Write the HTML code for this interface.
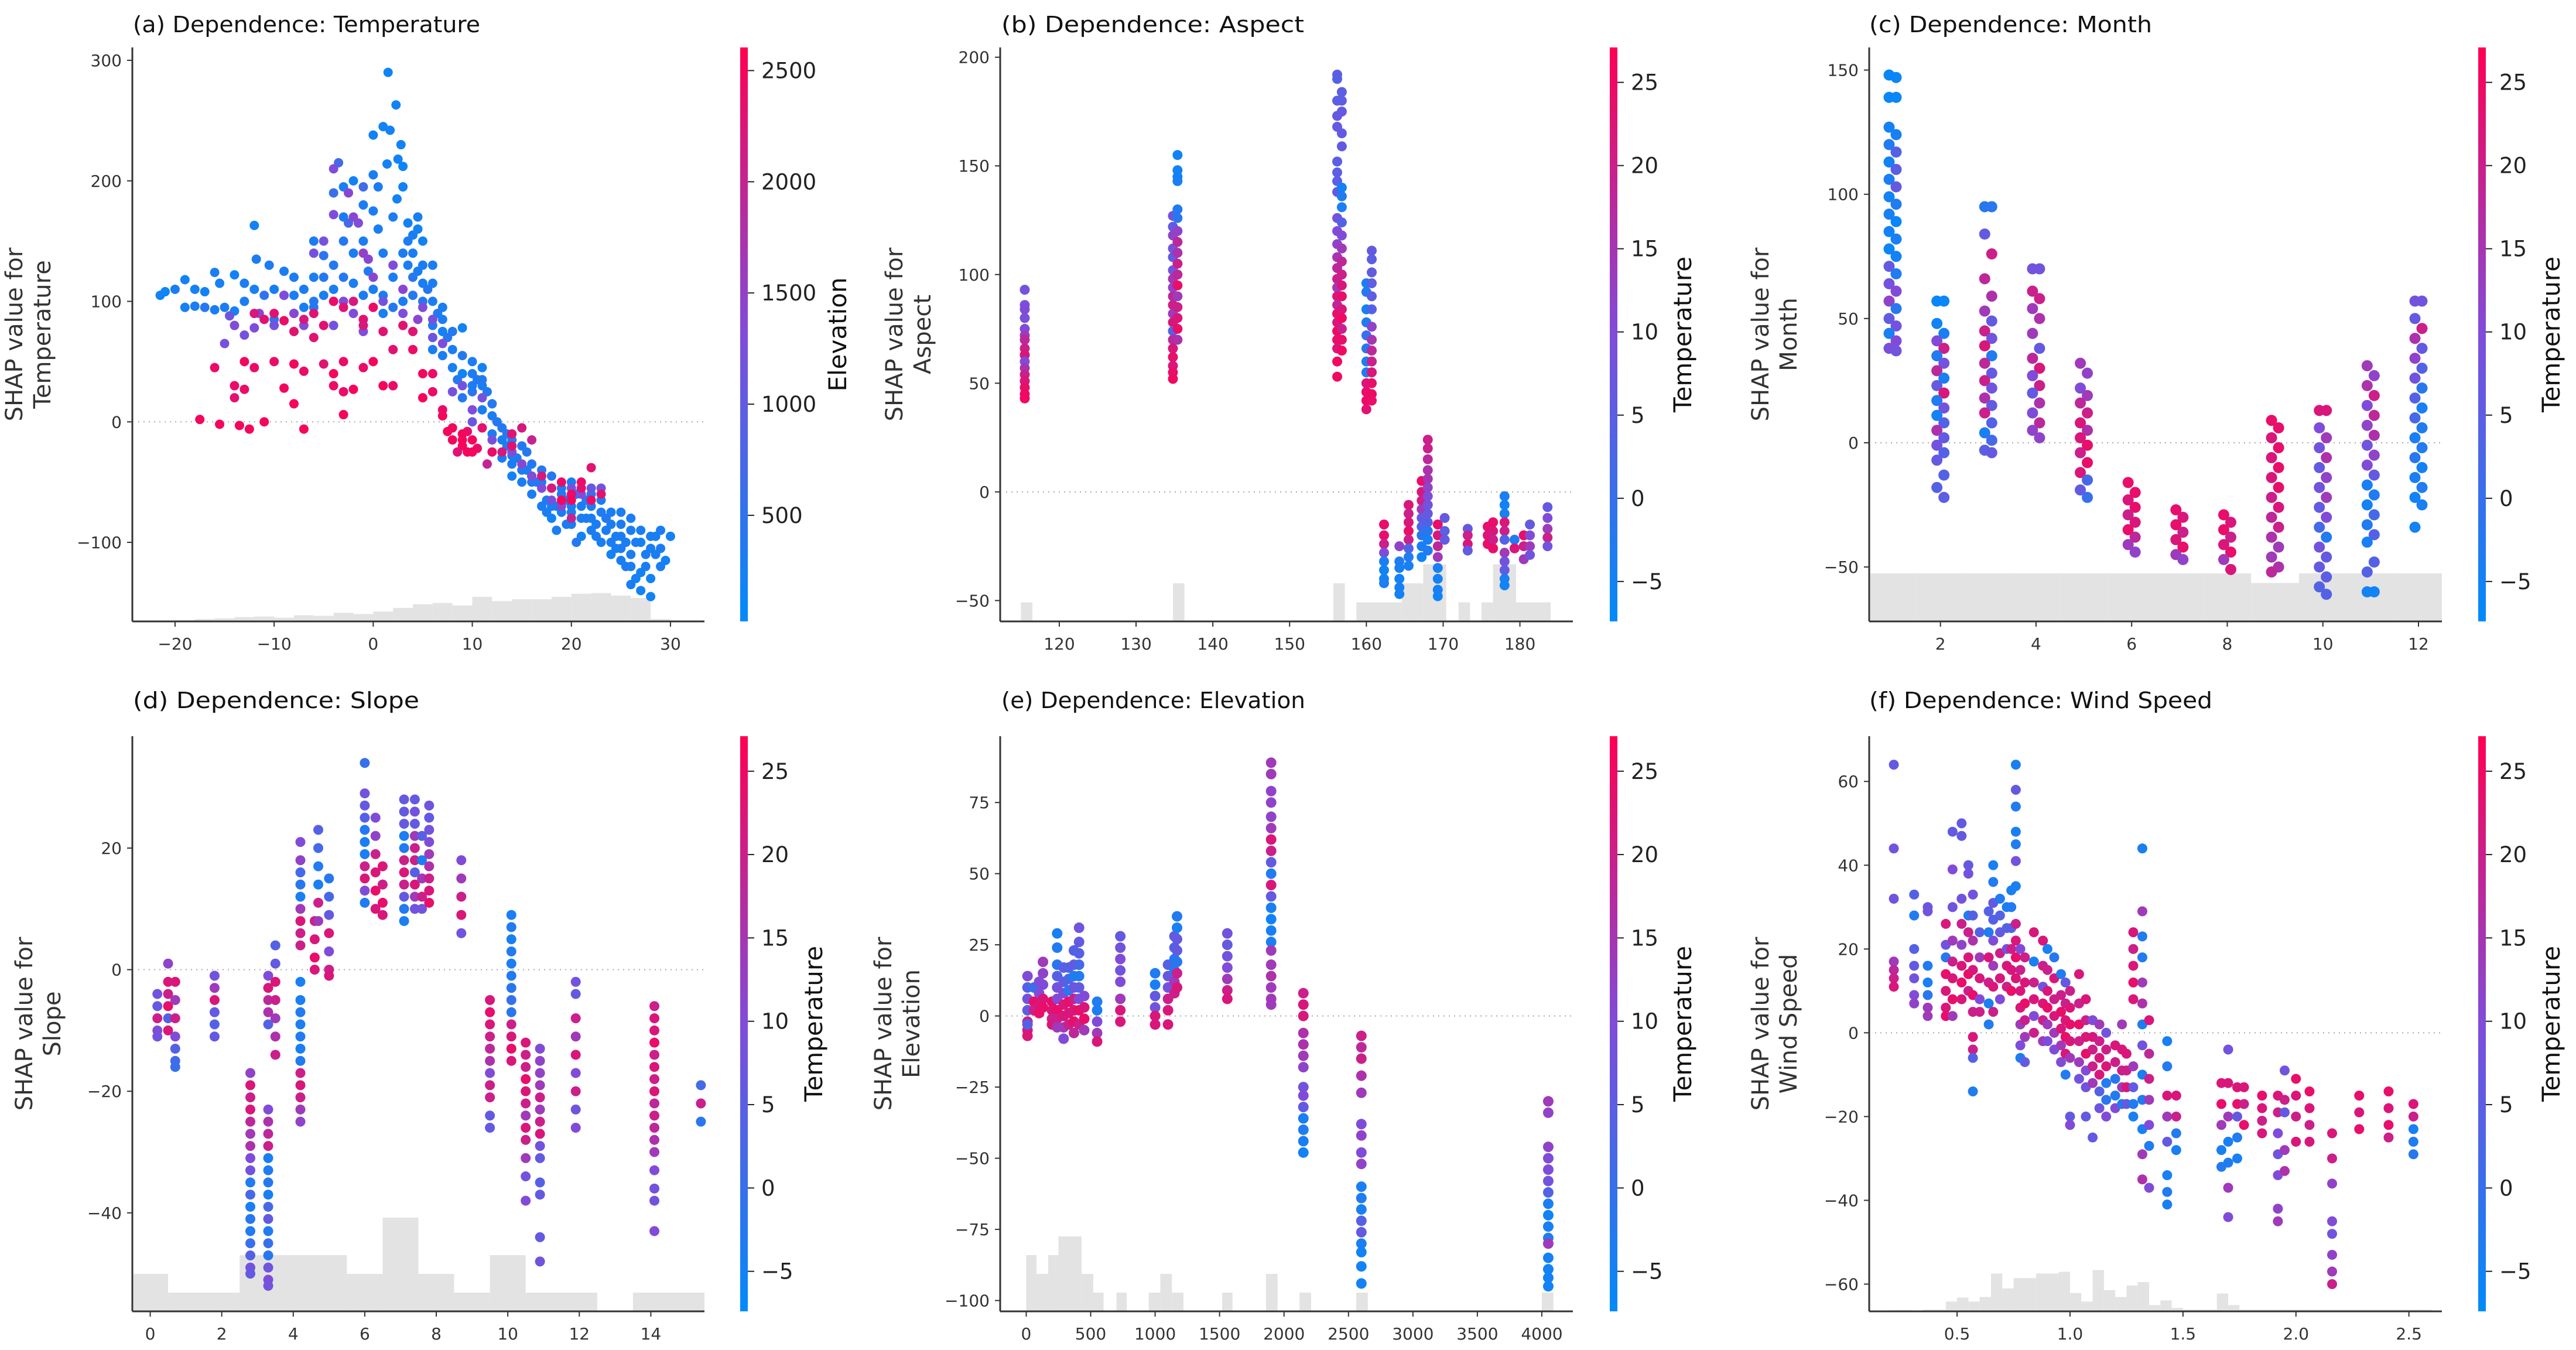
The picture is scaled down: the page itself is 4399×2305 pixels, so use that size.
<!DOCTYPE html>
<html><head><meta charset="utf-8"><title>SHAP dependence plots</title>
<style>html,body{margin:0;padding:0;background:#fff}svg{display:block}</style></head>
<body>
<svg id="fig" xmlns="http://www.w3.org/2000/svg" width="4399" height="2305" viewBox="0 0 4399 2305" font-family="DejaVu Sans, Liberation Sans, sans-serif">
<rect x="0" y="0" width="4399" height="2305" fill="#fff"/>
<defs>
<linearGradient id="cbgrad" x1="0" y1="1" x2="0" y2="0">
<stop offset="0" stop-color="rgb(0,139,249)"/><stop offset="0.5" stop-color="rgb(128,76,218)"/><stop offset="1" stop-color="rgb(255,0,82)"/>
</linearGradient>
</defs>
</svg>
<script>
// ---------- Panel (a) Temperature: [temperature, shap, elevation]
const tempBlue = [[-21.5,105,200],[-21,108,150],[-20,110,300],[-19,118,200],[-19,95,250],[-18,96,300],[-17,108,200],[-17,95,400],[-16,124,300],[-15.5,115,250],[-15,95,300],[-14,122,200],[-14,92,250],[-13,100,300],[-12,110,250],[-12,163,200],[-11.8,135,300],[-11,105,500],[-10.5,130,300],[-10,85,400],[-9,125,300],[-9,105,200],[-8,120,300],[-8,90,600],[-7,95,300],[-6,100,400],[-6,150,300],[-5,138,500],[-5,120,400],[-4,190,600],[-3.5,215,700],[-3,195,300],[-2.5,165,800],[-2,200,200],[-2,140,300],[-1,195,700],[-1,150,300],[0,205,300],[-0.5,125,400],[0.5,160,300],[0,238,200],[1,245,200],[1.5,290,150],[1.7,242,200],[1.4,214,200],[2.3,263,200],[2.5,218,200],[2.8,230,200],[3,212,150],[2.4,185,200],[3,195,200],[2,170,300],[3.5,165,200],[4,155,300],[4.5,160,200],[5,150,200],[4,140,300],[3,140,300],[6,130,300],[2,120,300],[1,105,300],[4,105,400],[5,115,300],[6,100,300],[7,95,300],[7,75,200],[8,60,300],[9,78,200],[6,80,400],[8,45,300],[9,40,200],[10,50,300],[11,45,200],[9,20,400],[10,25,500],[11,10,300],[12,15,400],[12,-10,300],[13,-5,400],[13,-30,300],[14,-15,300],[15,-20,400],[14,-45,200],[15,-50,300],[16,-35,400],[16,-60,300],[17,-40,400],[17,-70,300],[18,-55,300],[18,-80,200],[19,-60,400],[19,-75,300],[20,-50,300],[20,-85,300],[21,-70,300],[21,-95,200],[22,-80,300],[22,-60,400],[23,-100,300],[23,-75,300],[24,-85,300],[24,-110,200],[25,-95,300],[25,-75,300],[26,-110,300],[26,-90,300],[27,-100,200],[27,-125,200],[28,-95,300],[28,-130,200],[29,-105,300],[29,-90,300],[30,-95,200],[26.5,-130,200],[25.5,-120,300],[22.5,-95,300],[20.5,-100,400],[18.5,-90,300],[17.5,-65,300],[16.5,-50,300],[15.5,-40,300],[14.5,-30,300],[13.5,-20,300],[12.5,0,400],[11.5,25,400],[10.5,35,400],[8.5,35,400],[7.5,70,400],[6.5,90,400],[5.5,110,400],[4.5,125,300],[3.5,130,300],[28.5,-110,300],[29.5,-115,200],[27.5,-110,300],[24.5,-95,300],[23.5,-90,300],[21.5,-80,300],[19.5,-85,300],[27,-140,200],[28,-145,200],[26,-135,300],[24,-100,300],[25,-105,300],[22,-90,300],[20,-70,300],[18,-70,300],[16,-45,300],[14,-35,300],[12,5,300],[11,30,300],[10,40,300],[7,85,300],[5,130,300],[6,115,300],[3.5,150,300],[4.5,170,300],[-3,150,400],[-1,180,300],[0.5,195,300],[1,140,300],[-6,120,300],[-4,130,400],
[13,-15,300],[13.5,-10,400],[14,-28,300],[15,-40,300],[15.5,-25,400],[16,-50,400],[17,-50,300],[17.5,-75,300],[18,-45,400],[18.5,-70,300],[19,-55,300],[19.5,-65,400],[20,-75,300],[20.5,-60,300],[21,-80,300],[21.5,-65,400],[22,-70,300],[22.5,-85,300],[23,-65,300],[23.5,-80,400],[24,-75,300],[24.5,-105,300],[25,-85,300],[25.5,-100,300],[26,-80,300],[26.5,-100,300],[27,-90,300],[27.5,-120,300],[28,-105,300],[28.5,-95,300],[29,-120,300],[26,-120,300],[25,-115,300],[9,55,400],[10,30,300],[11,35,400],[8,75,400],[7,55,300],[6,60,300],[5,100,400],[4,120,400],[3,100,300],[2,95,400],[1,90,300],[0,110,300],[-1,105,300],[-2,115,300],[-3,120,400],[-4,110,300],[-5,105,300],[-7,110,300],[-3,170,300],[0,175,300],[-16,93,300],[-18,110,250],[-13,115,300],[-10,110,300],[-8,105,300],[-6,95,400]];
const tempPurple = [[-14,80,1300],[-15,65,1200],[-14.5,88,1100],[-13,72,1200],[-12,78,1300],[-11.5,90,1400],[-10,80,1200],[-8,90,1400],[-7,80,1300],[-6,140,1200],[-5,150,1200],[-4,210,1300],[-4,172,1300],[-2.5,190,1400],[-2,170,1400],[-1.5,165,1300],[-1,140,1500],[-0.5,135,1400],[0,120,1400],[-3,100,1300],[-4,80,1200],[-2,90,1300],[2,130,1300],[3,110,1400],[5,95,1300],[6,85,1200],[7,65,1300],[9,30,1200],[10,10,1300],[11,20,1200],[12,-15,1200],[14,-25,1300],[16,-45,1300],[18,-65,1200],[20,-55,1200],[22,-55,1100],[23,-55,1200],[21,-60,1300],[19,-70,1400],[17,-55,1300],[15,-35,1400],[-9,105,1300],[6,70,1100],[8,25,1200],[10,0,1100],[4.5,85,1400],[3,90,1300],[1,100,1200],[-1,75,1300]];
const tempRed = [[-17.5,2,2500],[-15.5,-2,2500],[-13.5,-3,2500],[-12.5,-6,2500],[-11,0,2500],[-7,-6,2500],[-16,45,2400],[-14,20,2300],[-13,27,2400],[-13,50,2500],[-12,45,2400],[-10,50,2400],[-9,28,2500],[-8,48,2500],[-7,42,2400],[-5,48,2300],[-4,30,2400],[-3,50,2400],[-3,6,2500],[-3,25,2400],[-2,27,2500],[-1,45,2400],[0,50,2500],[1,30,2500],[2,30,2400],[-10,90,2300],[-9,84,2400],[-8,75,2300],[-7,85,2200],[-6,90,2300],[-4,100,2400],[-3,95,2300],[-2,100,2200],[-1,85,2300],[0,95,2400],[1,75,2300],[3,80,2300],[4,60,2400],[5,40,2500],[5,20,2500],[6,25,2400],[7,5,2500],[7.5,-8,2500],[8,-15,2500],[9,-20,2500],[10,-15,2500],[9.5,-8,2400],[8.5,-25,2300],[10.5,-22,2400],[11,-5,2300],[11.5,-35,2000],[13,-25,2200],[14,-10,2300],[15,-5,2200],[16,-15,2000],[18,-55,2200],[20,-60,2400],[21,-50,2400],[19,-65,2500],[22,-38,2300],[20,-80,2000],[9,-10,2500],[10,-25,2500],[8,-5,2500],
[21,-55,2300],[19,-50,2400],[17,-45,2200],[23,-60,2300],[22,-65,2400],[20,-65,2500],[14,-20,2300],[12,-25,2400],[9,-15,2500],[9.5,-25,2500],[7,10,2400],[6,40,2400],[4,75,2300],[2,60,2300],[-1,80,2200],[-5,80,2300],[-6,70,2300],[-11,85,2300],[-12,90,2200],[-4,40,2500],[-8,15,2500],[-14,30,2400]];
const tempHist = [[-22,-20,1],[-20,-18,2],[-18,-16,4],[-16,-14,5],[-14,-12,7],[-12,-10,8],[-10,-8,6],[-8,-6,10],[-6,-4,9],[-4,-2,14],[-2,0,12],[0,2,16],[2,4,22],[4,6,28],[6,8,30],[8,10,26],[10,12,40],[12,14,33],[14,16,36],[16,18,36],[18,20,40],[20,22,45],[22,24,46],[24,26,42],[26,28,38],[28,30,4]];
const tempXTicks = [-20,-10,0,10,20,30];
const tempYTicks = [-100,0,100,200,300];
const elevTicks = [500,1000,1500,2000,2500];

// ---------- Panel (b) Aspect: strips
const aspectX = [115.5,134.8,135.4,156.2,156.8,160,160.7,162.3,164.3,165.5,167.2,168,169.3,170.2,173.2,175.8,176.5,178,179.3,180.5,181.3,183.6];
const aspectY = [
[93,86,84,80,75,72,70,66,63,60,57,54,51,48,45,43],
[127,122,118,112,108,102,98,94,90,86,82,78,74,70,66,62,58,55,52],
[155,148,145,143,130,126,120,115,110,105,100,95,90,85,80,75,70],
[192,190,180,173,168,152,147,143,138,126,120,114,108,103,98,94,90,86,82,78,74,70,66,60,53],
[184,180,175,165,159,140,136,131,124,118,112,106,100,95,90,84,80,75,70,65],
[96,92,84,78,72,66,60,55,50,46,42,38],
[111,107,101,96,90,84,76,70,65,60,55,50,45,42],
[-15,-20,-24,-28,-32,-36,-40,-42],
[-25,-32,-35,-40,-44,-47],
[-6,-10,-14,-18,-22,-26,-30,-34],
[5,0,-4,-8,-12,-16,-20,-25,-30],
[24,20,15,10,6,2,-2,-6,-10,-14,-18,-22,-27],
[-15,-20,-25,-30,-35,-40,-45,-48],
[-12,-18,-22],
[-17,-20,-24,-27],
[-16,-20,-24],
[-14,-18,-22,-26],
[-2,-6,-10,-14,-18,-22,-28,-32,-36,-40,-43],
[-22,-26],
[-20,-25,-31],
[-15,-20,-25,-29],
[-7,-12,-17,-21,-25]];
const aspectC = [
[8,9,10,9,10,14,18,20,22,10,15,20,22,24,25,25],
[8,6,12,8,6,8,15,12,18,20,14,22,4,18,22,24,22,24,25],
[-5,-5,-5,-4,-3,-2,12,18,16,20,18,24,14,20,22,24,16],
[5,4,5,6,6,5,5,5,6,8,10,12,15,18,20,14,22,18,24,22,25,24,22,25,25],
[5,5,6,6,6,-5,-3,-4,4,10,14,18,20,22,24,22,25,20,24,25],
[-4,-3,-5,-3,0,-2,-4,-3,22,24,25,23],
[6,5,6,5,5,4,12,15,18,20,22,24,25,24],
[24,24,20,10,-4,-5,-5,-4],
[12,-3,-4,-5,-4,-5],
[22,20,22,24,20,4,-3,-4],
[24,22,20,14,6,3,-2,-4,-5],
[20,20,18,16,15,12,10,8,6,4,-2,-4,-3],
[24,22,18,14,-4,-5,-4,-5],
[6,5,6],
[6,20,22,6],
[24,22,24],
[24,22,20,24],
[-4,-5,-4,22,20,4,14,8,6,-4,-5],
[-3,22],
[24,20,14],
[6,10,14,8],
[6,10,14,20,8]];
const aspectHist = [[115,116.5,1],[134.8,136.3,2],[155.7,157.2,2],[158.7,164.6,1],[164.6,167.4,2],[167.4,170.4,3],[172,173.5,1],[175,176.5,1],[176.5,179.5,3],[179.5,184,1]];
const aspectXTicks = [120,130,140,150,160,170,180];
const aspectYTicks = [-50,0,50,100,150,200];
const tempCbTicks = [-5,0,5,10,15,20,25];

// ---------- Panel (c) Month
const monthX = [1,2,3,4,5,6,7,8,9,10,11,12];
const monthY = [
[148,147,139,139,127,124,120,117,113,110,106,103,99,96,92,89,85,82,78,75,71,68,64,61,57,54,50,47,44,41,38,37],
[57,57,48,44,41,38,35,32,29,26,23,20,17,14,11,8,5,2,-1,-4,-7,-13,-18,-22],
[95,95,84,76,66,59,53,49,45,42,39,35,32,28,25,22,18,15,12,8,4,1,-3,-4],
[70,70,61,58,54,50,44,38,34,30,27,23,20,16,12,8,5,2],
[32,28,22,19,16,12,8,5,2,-1,-4,-8,-12,-15,-19,-22],
[-16,-20,-23,-26,-29,-32,-35,-38,-41,-44],
[-27,-30,-33,-36,-39,-42,-45,-47],
[-29,-32,-35,-38,-41,-44,-47,-51],
[9,6,2,-2,-6,-10,-14,-18,-22,-26,-30,-34,-38,-42,-46,-50,-52],
[13,13,6,2,-2,-6,-10,-14,-18,-22,-26,-30,-34,-38,-42,-46,-50,-54,-58,-61],
[31,27,23,19,15,11,7,3,-1,-5,-9,-13,-17,-21,-25,-29,-33,-37,-40,-48,-52,-60,-60],
[57,57,50,46,42,38,34,30,26,22,18,14,10,6,2,-2,-6,-10,-14,-18,-22,-25,-34]];
const monthC = [
[-6,-6,-6,-6,-5,-4,-3,4,-5,5,-4,6,-5,-3,-4,-6,-5,-4,-6,-5,6,-3,8,10,12,-2,6,8,-4,10,9,8],
[-6,-6,-5,-4,10,20,-3,8,18,-4,6,22,-3,8,-5,4,16,6,8,4,6,4,4,5],
[-2,-2,6,20,18,16,14,6,20,8,22,-3,18,6,20,8,16,6,20,4,-4,2,5,6],
[8,8,20,20,14,16,14,6,18,22,10,20,6,16,10,18,12,12],
[14,12,10,14,18,20,22,16,22,24,20,24,22,2,6,0],
[24,24,22,24,20,22,24,18,14,12],
[24,22,24,20,22,24,14,12],
[24,22,24,20,22,24,14,22],
[24,24,22,24,22,24,22,24,20,22,18,20,16,14,14,16,18],
[22,22,10,14,8,16,6,12,8,14,6,10,2,-3,8,6,6,5,4,4],
[14,12,16,20,10,18,12,16,8,12,10,6,-4,-3,-5,2,-3,4,-4,4,4,-5,-5],
[8,8,6,20,16,6,12,4,8,-2,4,-4,2,-3,-4,-3,-2,-5,-4,-3,-5,-4,-5]];
const monthHist = [[0.5,1.5,5],[1.5,2.5,5],[2.5,3.5,5],[3.5,4.5,5],[4.5,5.5,5],[5.5,6.5,5],[6.5,7.5,5],[7.5,8.5,5],[8.5,9.5,4],[9.5,10.5,5],[10.5,11.5,5],[11.5,12.5,5]];
const monthXTicks = [2,4,6,8,10,12];
const monthYTicks = [-50,0,50,100,150];

// ---------- Panel (d) Slope
const slopeX = [0.2,0.5,0.7,1.8,2.8,3.3,3.5,4.2,4.6,4.7,5.0,6.0,6.3,6.5,7.1,7.4,7.6,7.8,8.7,9.5,10.1,10.5,10.9,11.9,14.1,15.4];
const slopeY = [
[-4,-6,-8,-10,-11],[1,-2,-4,-6,-8,-10],[-2,-5,-8,-11,-13,-15,-16],[-1,-3,-5,-7,-9,-11],
[-17,-19,-21,-23,-25,-27,-29,-31,-33,-35,-37,-39,-41,-43,-45,-47,-49,-50],
[-1,-3,-5,-7,-9,-23,-25,-27,-29,-31,-33,-35,-37,-39,-41,-43,-45,-47,-49,-51,-52],
[4,1,-2,-5,-8,-11,-14],
[21,18,16,14,12,10,8,6,4,-2,-5,-7,-9,-11,-13,-15,-17,-19,-21,-23,-25],
[8,5,2,0],[23,20,17,14,11,8],[15,12,9,6,3,0,-1],
[34,29,27,25,23,21,19,17,15,13,11],[25,22,19,16,13,10],[17,14,11,9],
[28,26,24,22,20,18,16,14,12,10,8],[28,26,24,22,20,18,16,14,12,10],[22,18,15,12,10],[27,25,23,21,19,17,15,13,11],
[18,15,12,9,6],[-5,-7,-9,-11,-13,-15,-17,-19,-21,-24,-26],[9,7,5,3,1,-1,-3,-5,-7,-9,-11,-13,-15],
[-12,-14,-16,-18,-20,-22,-24,-26,-28,-31,-34,-38],[-13,-15,-17,-19,-21,-23,-25,-27,-29,-31,-35,-37,-44,-48],
[-2,-4,-8,-11,-14,-17,-20,-23,-26],[-6,-8,-10,-12,-14,-16,-18,-20,-22,-24,-26,-28,-30,-33,-36,-38,-43],[-19,-22,-25]];
const slopeC = [
[8,6,20,10,8],[12,22,20,24,4,22],[22,14,20,10,4,2,0],[8,14,22,6,4,6],
[12,22,20,22,18,14,16,10,8,-3,2,-4,-2,-3,0,4,8,6],
[10,22,18,16,4,10,16,18,20,-4,-3,-2,-4,2,6,-3,0,-2,8,10,8],
[4,6,22,20,14,16,20],
[10,12,2,-2,-4,14,22,20,20,-4,-4,-3,-4,-3,-4,-3,20,22,20,14,12],
[20,22,24,22],[4,2,-3,-4,20,14],[-2,2,6,22,10,20,22],
[0,8,6,4,-3,-4,-4,20,22,10,-3],[10,12,20,22,24,22],[22,20,24,22],
[6,6,6,-4,-3,20,22,20,6,-3,-4],[6,8,6,14,20,20,4,22,14,8],[4,-4,14,20,8],[8,6,8,10,14,16,20,22,24],
[10,14,20,22,8],[22,24,22,20,18,16,10,20,20,6,6],[-4,-3,-4,-3,-4,-3,-2,0,-2,20,22,24,22],
[22,20,20,24,22,20,14,22,20,14,8,10],[10,12,12,14,20,14,20,22,8,6,4,6,6,8],
[8,6,20,14,22,10,20,8,10],[20,22,22,24,20,22,20,22,18,20,18,16,14,10,8,8,10],[2,20,-2]];
const slopeHist = [[-0.5,0.5,2],[0.5,2.5,1],[2.5,5.5,3],[5.5,6.5,2],[6.5,7.5,5],[7.5,8.5,2],[8.5,9.5,1],[9.5,10.5,3],[10.5,12.5,1],[13.5,15.5,1]];
const slopeXTicks = [0,2,4,6,8,10,12,14];
const slopeYTicks = [-40,-20,0,20];

// ---------- Panel (e) Elevation
const elevX = [10,60,100,130,200,240,290,330,370,410,450,550,730,1000,1100,1150,1170,1560,1900,2150,2600,4050];
const elevY = [
[14,10,6,2,-2,-5,-7,-3],[10,5,2],[12,8,4,1],[19,15,11,6,3],[5,2,-1,-3],
[29,24,18,14,10,6,2,-1,-4],[17,12,8,4,0,-4,-8],[17,13,9,5,1,-3],
[23,18,14,10,6,2,-2,-6],[31,26,22,18,14,10,6,2,-3],[7,3,-1,-5],[5,2,-2,-6,-9],
[28,24,20,16,12,6,2,-2],[15,11,7,3,0,-3],[18,14,10,6,2,-3],[28,24,20,16,12,8],
[35,31,27,23,19,15,10],[29,25,21,17,13,9,6],
[89,85,79,75,70,66,62,58,54,50,46,42,38,34,30,26,23,18,14,10,6,4],
[8,4,0,-6,-10,-14,-18,-25,-28,-32,-36,-40,-44,-48],
[-7,-11,-15,-21,-27,-38,-42,-48,-52,-60,-64,-68,-72,-76,-80,-83,-88,-94],
[-30,-34,-46,-50,-54,-58,-62,-66,-70,-74,-78,-80,-85,-89,-92,-95]];
const elevC = [
[10,4,8,6,20,22,22,4],[0,24,20],[10,10,22,24],[14,12,10,22,24],[24,22,20,22],
[-4,-3,-2,4,8,10,24,20,14],[4,6,10,22,22,14,10],[4,2,-3,24,22,20],
[4,6,-3,8,20,22,24,18],[8,6,4,2,-3,6,10,24,20],[10,22,24,14],[-3,-4,10,14,22],
[6,8,10,8,10,14,22,22],[-3,-4,6,8,22,22],[4,6,8,20,22,22],[6,4,-3,-2,14,20],
[-3,-4,6,6,-2,20,22],[8,6,8,10,14,20,22],
[14,14,12,12,12,14,22,20,6,-3,22,6,-4,-5,-4,-4,14,14,16,14,14,14],
[20,22,22,16,16,14,12,8,10,6,-4,-3,-4,-5],
[20,18,20,16,14,10,12,10,12,-4,-3,-4,4,6,-4,-5,-5,-5],
[14,12,12,10,10,8,4,-4,-5,-4,-3,14,-5,-5,-5,-5]];
const elevHist = [[0,80,3],[80,170,2],[170,250,3],[250,430,4],[430,520,2],[520,600,1],[700,780,1],[950,1040,1],[1040,1130,2],[1130,1220,1],[1520,1600,1],[1860,1950,2],[2120,2210,1],[2560,2650,1],[4000,4090,1]];
const elevXTicks = [0,500,1000,1500,2000,2500,3000,3500,4000];
const elevYTicks = [-100,-75,-50,-25,0,25,50,75];

// ---------- Panel (f) Wind Speed
const windX = [0.22,0.31,0.37,0.45,0.48,0.52,0.55,0.57,0.6,0.64,0.66,0.69,0.72,0.74,0.76,0.78,0.8,0.84,0.88,0.9,0.93,0.96,0.98,1.0,1.04,1.07,1.1,1.13,1.16,1.2,1.23,1.25,1.28,1.32,1.35,1.43,1.47,1.67,1.7,1.74,1.77,1.85,1.92,1.95,2.0,2.06,2.16,2.28,2.41,2.52];
const windY = [
[64,44,32,17,15,13,11],[33,28,20,16,13,9,7],[30,29,16,12,9,6,4],[26,21,18,14,10,6,4],
[48,39,30,22,17,13,8,4],[50,47,32,26,21,16,12,8],[40,38,28,24,18,14,10],
[33,28,22,15,9,5,-1,-4,-6,-14],[24,18,13,8,5],[29,24,18,12,7,2],[40,36,31,27,22,16,11,5],
[32,28,24,19,13,8],[30,25,20,16,11],[34,30,25,20,15,10],
[64,58,54,48,45,41,35,26,22,18,13],[20,15,10,6,2,-3,-6],[18,12,7,3,-1,-7],
[24,17,12,8,4,0],[22,16,11,7,3,-2],[20,15,10,6,2,-2],[18,13,8,4,0,-4],[14,9,5,1,-3,-7],
[12,7,3,-1,-5,-10],[10,6,2,-2,-6,-20,-22],[14,7,2,-2,-7,-11],[8,3,-1,-5,-9,-13,-20],
[3,-1,-4,-8,-12,-25],[2,-2,-6,-10,-14,-18],[0,-4,-8,-12,-16,-20],[-3,-7,-11,-15,-18],
[2,-4,-9,-13,-17],[-5,-9,-13,-17],[24,20,16,12,8,-8,-13,-17,-20],
[44,29,23,18,12,7,2,-3,-10,-16,-23,-29,-35],[3,-5,-11,-16,-22,-27,-37],
[-2,-8,-15,-20,-26,-34,-38,-41],[-15,-20,-24,-28],[-12,-17,-22,-28,-32],
[-4,-12,-20,-26,-31,-37,-44],[-13,-17,-20,-25,-30],[-13,-17,-22],[-15,-18,-21,-24],
[-15,-19,-24,-29,-34,-42,-45],[-9,-16,-19,-28,-33],[-11,-15,-20,-26],[-14,-18,-22,-26],
[-24,-30,-36,-45,-48,-53,-57,-60],[-15,-19,-23],[-14,-18,-22,-25],[-17,-20,-23,-26,-29]];
const windC = [
[6,8,8,14,18,20,22],[4,-3,4,6,8,10,12],[6,8,-3,-4,-2,14,14],[22,8,-2,24,22,22,24],
[6,10,8,14,20,22,24,14],[6,6,8,20,12,22,24,22],[6,8,-3,20,22,24,20],
[8,4,16,22,24,20,22,20,4,-3],[4,14,22,10,20],[4,-3,22,20,-4,-3],[-4,-3,6,4,10,14,22,20],
[-3,4,6,20,22,10],[-4,4,8,22,20],[-4,-3,4,20,22,24],
[-4,6,-3,-4,-3,8,-4,20,22,24,22],[10,20,22,22,14,10,-3],[20,22,24,20,14,6],
[22,-4,20,22,10,20],[22,20,8,22,20,14],[-4,20,22,24,14,10],[-2,22,20,22,14,10],[-3,20,24,22,14,10],
[6,20,22,24,22,-3],[20,22,24,22,14,6,10],[22,20,24,20,14,8],[22,20,22,24,10,8,6],
[10,22,20,20,14,6],[14,20,22,22,4,8],[8,20,22,-3,-2,10],[22,20,-2,-3,10],
[14,22,20,14,-3],[22,20,22,6],[22,20,22,24,22,14,6,-3,-4],
[-4,14,-3,-3,14,16,-3,8,-4,-3,-4,14,16],[22,18,20,14,10,-3,10],
[-4,-3,22,14,6,-4,-3,-4],[22,20,-3,-4],[22,24,14,-4,-3],
[8,22,14,-4,-3,14,10],[22,24,6,-3,-4],[22,20,24],[24,22,20,22],
[22,20,10,8,10,12,14],[8,20,6,14,16],[24,22,20,22],[24,22,20,22],
[22,20,12,10,8,12,14,20],[24,22,24],[24,22,24,20],[22,20,-4,-3,-2]];
const windHist = [[0.2,0.3,2],[0.35,0.45,3],[0.45,0.5,17],[0.5,0.55,24],[0.55,0.6,17],[0.6,0.65,25],[0.65,0.7,66],[0.7,0.75,40],[0.75,0.85,58],[0.85,0.95,66],[0.95,1.0,69],[1.0,1.05,32],[1.05,1.1,17],[1.1,1.15,72],[1.15,1.2,37],[1.2,1.25,25],[1.25,1.3,45],[1.3,1.35,51],[1.35,1.4,11],[1.4,1.45,19],[1.45,1.5,6],[1.5,1.65,3],[1.65,1.7,31],[1.7,1.75,11],[1.75,2.6,3]];
const windXTicks = [0.5,1.0,1.5,2.0,2.5];
const windYTicks = [-60,-40,-20,0,20,40,60];

// ---------- rendering
const NS = 'http://www.w3.org/2000/svg';
const svg = document.getElementById('fig');
function mk(tag, attrs, parent) {
  const el = document.createElementNS(NS, tag);
  for (const k in attrs) el.setAttribute(k, attrs[k]);
  (parent || svg).appendChild(el);
  return el;
}
function colorOf(t) {
  t = Math.max(0, Math.min(1, t));
  const A = [0,139,249], M = [128,76,218], B = [255,0,82];
  let c;
  if (t < 0.5) { const u = t / 0.5; c = A.map((v, i) => v + (M[i] - v) * u); }
  else { const u = (t - 0.5) / 0.5; c = M.map((v, i) => v + (B[i] - v) * u); }
  return 'rgb(' + c.map(Math.round).join(',') + ')';
}

function drawPanel(cfg) {
  const g = mk('g', {});
  
  
  const sx = x => cfg.l + (x - cfg.xd[0]) / (cfg.xd[1] - cfg.xd[0]) * (cfg.r - cfg.l);
  const sy = y => cfg.b - (y - cfg.yd[0]) / (cfg.yd[1] - cfg.yd[0]) * (cfg.b - cfg.t);
  const sc = c => cfg.cb.b - (c - cfg.cbd[0]) / (cfg.cbd[1] - cfg.cbd[0]) * (cfg.cb.b - cfg.t);
  const hg = mk('g', {}, g);
  
  
  cfg.hist.forEach(h => {
    const x0 = Math.max(cfg.l + 2, sx(h[0])), x1 = Math.min(cfg.r, sx(h[1]));
    const hh = h[2] * cfg.histUnit;
    const rc = mk('rect', {x: x0, y: cfg.b - hh, width: Math.max(0, x1 - x0), height: hh, fill: '#e3e3e3'}, hg);
    
    
  });
  const zl = mk('line', {x1: cfg.l + 10, x2: cfg.r, y1: sy(0), y2: sy(0), stroke: '#a8a8a8', 'stroke-width': 2, 'stroke-dasharray': '2,7'}, g);
  
  
  const pg = mk('g', {}, g);
  
  
  cfg.points.forEach(p => {
    const cx = sx(p[0]) + (p[3] || 0);
    const dot = mk('circle', {cx: cx, cy: sy(p[1]), r: cfg.rad || 8.5, fill: colorOf((p[2] - cfg.cbd[0]) / (cfg.cbd[1] - cfg.cbd[0]))}, pg);
    
    
  });
  const ya = mk('line', {x1: cfg.l, x2: cfg.l, y1: cfg.t, y2: cfg.b, stroke: '#333', 'stroke-width': 3}, g);
  
  
  const xa = mk('line', {x1: cfg.l, x2: cfg.r, y1: cfg.b, y2: cfg.b, stroke: '#333', 'stroke-width': 3}, g);
  
  
  cfg.xt.forEach(v => {
    const x = sx(v);
    mk('line', {x1: x, x2: x, y1: cfg.b, y2: cfg.b + 9, stroke: '#333', 'stroke-width': 2}, g);
    const t = mk('text', {x: x, y: cfg.b + 48, 'text-anchor': 'middle', 'font-size': 28, fill: '#333'}, g);
    t.textContent = cfg.xfmt ? cfg.xfmt(v) : String(v).replace('-', '\u2212');
    
    
  });
  cfg.yt.forEach(v => {
    const y = sy(v);
    mk('line', {x1: cfg.l - 9, x2: cfg.l, y1: y, y2: y, stroke: '#333', 'stroke-width': 2}, g);
    const t = mk('text', {x: cfg.l - 18, y: y + 10, 'text-anchor': 'end', 'font-size': 28, fill: '#333'}, g);
    t.textContent = String(v).replace('-', '\u2212');
    
    
  });
  const ti = mk('text', {x: cfg.titleX, y: cfg.titleY, 'font-size': 38, fill: '#111', textLength: cfg.titleW, lengthAdjust: 'spacingAndGlyphs'}, g);
  ti.textContent = cfg.title;
  
  
  const ymid = (cfg.t + cfg.b) / 2;
  const l1 = mk('text', {x: 0, y: 0, 'text-anchor': 'middle', 'font-size': 40, fill: '#333', transform: 'translate(' + (cfg.yl1 + 14) + ',' + ymid + ') rotate(-90)'}, g);
  l1.textContent = 'SHAP value for';
  
  
  const l2 = mk('text', {x: 0, y: 0, 'text-anchor': 'middle', 'font-size': 40, fill: '#333', transform: 'translate(' + (cfg.yl1 + 62) + ',' + ymid + ') rotate(-90)'}, g);
  l2.textContent = cfg.feature;
  
  
  const cbr = mk('rect', {x: cfg.cb.x, y: cfg.t, width: 13, height: cfg.cb.b - cfg.t, fill: 'url(#cbgrad)'}, g);
  
  
  cfg.cbt.forEach(v => {
    const y = sc(v);
    mk('line', {x1: cfg.cb.x + 13, x2: cfg.cb.x + 24, y1: y, y2: y, stroke: '#222', 'stroke-width': 2}, g);
    const t = mk('text', {x: cfg.cb.x + 36, y: y + 13, 'font-size': 37, fill: '#222'}, g);
    t.textContent = String(v).replace('-', '\u2212');
    
    
  });
  const ct = mk('text', {x: 0, y: 0, 'text-anchor': 'middle', 'font-size': 42, fill: '#111', transform: 'translate(' + (cfg.cbTitleX + 15) + ',' + ((cfg.t + cfg.b) / 2) + ') rotate(-90)'}, g);
  ct.textContent = cfg.cbTitle;
  
  
}

function stripPoints(xs, ys, cs, jit) {
  const out = [];
  xs.forEach((x, i) => ys[i].forEach((y, j) => out.push([x, y, cs[i][j] !== undefined ? cs[i][j] : 10, jit ? (j % 2 ? jit : -jit) : 0])));
  return out;
}
const dec1 = v => v.toFixed(1);

const R1 = {t: 81, b: 1061}, R2 = {t: 1257, b: 2239};
const tempCb = [-7.4, 27.1];
drawPanel({key: 'a', l: 226, r: 1203, t: R1.t, b: R1.b, xd: [-24.31, 33.43], yd: [-165.6, 310.7],
  points: tempBlue.concat(tempPurple, tempRed), hist: tempHist, histUnit: 1.05, xt: tempXTicks, yt: tempYTicks, rad: 8,
  cb: {x: 1264, b: R1.b}, cbd: [23, 2604], cbt: elevTicks, cbTitle: 'Elevation', cbTitleX: 1430,
  title: '(a) Dependence: Temperature', titleX: 227, titleY: 55, titleW: 593, feature: 'Temperature', yl1: 24});
drawPanel({key: 'b', l: 1708, r: 2686, t: R1.t, b: R1.b, xd: [112.3, 186.9], yd: [-59.6, 204.5],
  points: stripPoints(aspectX, aspectY, aspectC, 0), hist: aspectHist, histUnit: 32.5, xt: aspectXTicks, yt: aspectYTicks,
  cb: {x: 2749, b: R1.b}, cbd: tempCb, cbt: tempCbTicks, cbTitle: 'Temperature', cbTitleX: 2873,
  title: '(b) Dependence: Aspect', titleX: 1710, titleY: 55, titleW: 517, feature: 'Aspect', yl1: 1527});
drawPanel({key: 'c', l: 3192, r: 4170, t: R1.t, b: R1.b, xd: [0.51, 12.49], yd: [-71.9, 159.1],
  points: stripPoints(monthX, monthY, monthC, 6), hist: monthHist, histUnit: 16.4, xt: monthXTicks, yt: monthYTicks,
  cb: {x: 4232, b: R1.b}, cbd: tempCb, cbt: tempCbTicks, cbTitle: 'Temperature', cbTitleX: 4356, rad: 9.5,
  title: '(c) Dependence: Month', titleX: 3192, titleY: 55, titleW: 483, feature: 'Month', yl1: 3006});
drawPanel({key: 'd', l: 226, r: 1203, t: R2.t, b: R2.b, xd: [-0.5, 15.5], yd: [-56.2, 38.4],
  points: stripPoints(slopeX, slopeY, slopeC, 0), hist: slopeHist, histUnit: 32, xt: slopeXTicks, yt: slopeYTicks,
  cb: {x: 1264, b: R2.b}, cbd: tempCb, cbt: tempCbTicks, cbTitle: 'Temperature', cbTitleX: 1389,
  title: '(d) Dependence: Slope', titleX: 227, titleY: 1209, titleW: 489, feature: 'Slope', yl1: 41});
drawPanel({key: 'e', l: 1708, r: 2686, t: R2.t, b: R2.b, xd: [-202, 4241], yd: [-103.8, 98.3],
  points: stripPoints(elevX, elevY, elevC, 0), hist: elevHist, histUnit: 32, xt: elevXTicks, yt: elevYTicks, rad: 9,
  cb: {x: 2749, b: R2.b}, cbd: tempCb, cbt: tempCbTicks, cbTitle: 'Temperature', cbTitleX: 2873,
  title: '(e) Dependence: Elevation', titleX: 1710, titleY: 1209, titleW: 519, feature: 'Elevation', yl1: 1508});
drawPanel({key: 'f', l: 3192, r: 4170, t: R2.t, b: R2.b, xd: [0.111, 2.646], yd: [-66.5, 70.8],
  points: stripPoints(windX, windY, windC, 0), hist: windHist, histUnit: 0.98, xt: windXTicks, yt: windYTicks, xfmt: dec1,
  cb: {x: 4232, b: R2.b}, cbd: tempCb, cbt: tempCbTicks, cbTitle: 'Temperature', cbTitleX: 4356,
  title: '(f) Dependence: Wind Speed', titleX: 3192, titleY: 1209, titleW: 586, feature: 'Wind Speed', yl1: 3006});
</script>
</body></html>
